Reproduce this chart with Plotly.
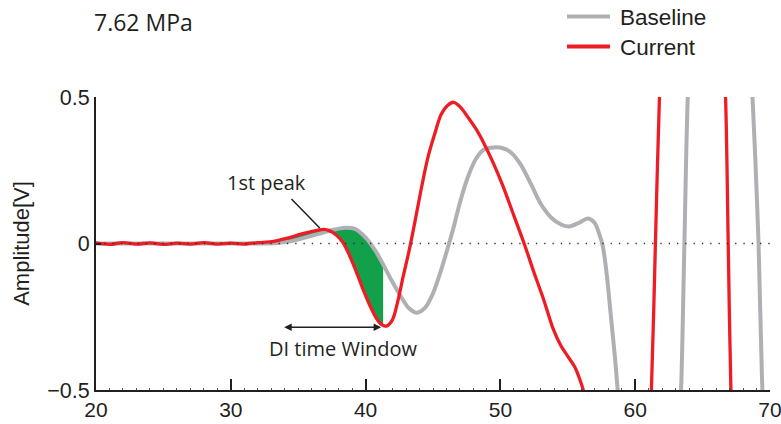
import numpy as np
import plotly.graph_objects as go

# ---- data ----
baseline_x = [20, 24, 28, 32, 33.5, 34.5, 35.5, 36.5, 37.5, 38.5, 39.2, 40.0, 40.8, 41.8, 42.6, 43.2,
              43.8, 44.4, 45.0, 45.5, 46.0, 46.5, 47.0, 47.55, 48.2, 48.8, 49.5, 50.2, 50.8, 51.5,
              52.3, 53.0, 53.8, 54.5, 55.1, 55.8, 56.5, 57.0, 57.35, 57.6, 57.9, 58.2, 58.5, 58.7,
              59.0, 60.5, 62.5, 63.2, 63.4, 63.65, 63.9, 64.2, 65.5, 68.3, 68.7, 68.9, 69.15, 69.4,
              69.7, 70.5]
baseline_y = [0, 0, 0, 0, 0.002, 0.008, 0.02, 0.033, 0.046, 0.054, 0.05, 0.02, -0.03, -0.115, -0.18,
              -0.22, -0.236, -0.22, -0.17, -0.105, -0.03, 0.05, 0.14, 0.222, 0.29, 0.322, 0.328, 0.325,
              0.31, 0.27, 0.2, 0.135, 0.087, 0.065, 0.058, 0.07, 0.085, 0.07, 0.03, -0.01, -0.11, -0.25,
              -0.39, -0.5, -0.68, -1.3, -1.0, -0.65, -0.5, 0.0, 0.5, 0.75, 1.4, 0.9, 0.5, 0.3, 0.0,
              -0.45, -0.8, -1.4]

current_x = [20, 21, 22, 23, 24, 25, 26, 27, 28, 29, 30, 31, 32, 33, 33.8, 34.5, 35.2, 35.9, 36.5,
             36.9, 37.3, 37.8, 38.3, 38.8, 39.3, 39.8, 40.3, 40.8, 41.2, 41.55, 42.0, 42.4, 42.8,
             43.2, 43.6, 44.1, 44.6, 45.1, 45.6, 46.1, 46.55, 47.0, 47.5, 48.2, 48.8, 49.5, 50.2,
             51.0, 51.8, 52.5, 53.2, 53.9, 54.5, 55.0, 55.5, 55.9, 56.2, 56.5, 57.5, 60.0, 60.9,
             61.2, 61.5, 61.8, 62.1, 64.0, 66.3, 66.7, 66.9, 67.1, 67.4, 69.0, 70.5]
current_y = [0.002, -0.003, 0.003, -0.002, 0.002, -0.003, 0.001, -0.002, 0.003, -0.002, 0.001, -0.002,
             0.003, 0.006, 0.014, 0.022, 0.032, 0.04, 0.046, 0.048, 0.044, 0.03, 0.005, -0.04, -0.095,
             -0.155, -0.21, -0.255, -0.277, -0.282, -0.26, -0.195, -0.11, -0.03, 0.06, 0.18, 0.29,
             0.37, 0.44, 0.472, 0.482, 0.467, 0.437, 0.39, 0.34, 0.272, 0.195, 0.095, -0.005, -0.1, -0.19,
             -0.29, -0.35, -0.385, -0.42, -0.465, -0.51, -0.62, -1.0, -1.2, -0.75, -0.5, 0.0, 0.5,
             0.8, 1.4, 0.85, 0.5, 0.0, -0.5, -0.85, -1.4, -1.5]

window_start, window_end = 33.4, 41.3     # green difference region
di_window = [33.85, 41.15]                 # DI time window arrow
peak_x, peak_y = 36.9, 0.048               # 1st peak
pressure_label = "7.62 MPa"
series_names = ["Baseline", "Current"]
x_ticks = [20, 30, 40, 50, 60, 70]
y_ticks = [-0.5, 0, 0.5]
y_tick_text = ["\u22120.5", "0", "0.5"]

GRAY = "#AFB0B3"
RED = "#EE1D25"
GREEN = "#12A04A"
INK = "#231F20"
TICKFONT = "Liberation Sans, Arial, sans-serif"
ANNFONT = "Open Sans, Noto Sans, sans-serif"

# pixel helpers for the plot frame (l=96, t=97, w=674, h=293)
def px_x(p):
    return (p - 96) / 674

def px_y(p):
    return (390 - p) / 293

fig = go.Figure()

# green fill between curves inside the window
fx = [x for x in sorted(set(baseline_x + current_x)) if window_start <= x <= window_end]
fx = [window_start] + fx + [window_end]
fb = np.interp(fx, baseline_x, baseline_y)
fc = np.interp(fx, current_x, current_y)
fig.add_trace(go.Scatter(x=fx, y=fb, mode="lines", line=dict(width=0, shape="spline"),
                         hoverinfo="skip", showlegend=False))
fig.add_trace(go.Scatter(x=fx, y=fc, mode="lines", line=dict(width=0, shape="spline"),
                         fill="tonexty", fillcolor=GREEN, hoverinfo="skip", showlegend=False))

fig.add_trace(go.Scatter(x=baseline_x, y=baseline_y, mode="lines", name=series_names[0],
                         line=dict(color=GRAY, width=4, shape="spline", smoothing=0.8),
                         showlegend=False))
fig.add_trace(go.Scatter(x=current_x, y=current_y, mode="lines", name=series_names[1],
                         line=dict(color=RED, width=3.3, shape="spline", smoothing=0.8),
                         showlegend=False))

# dotted zero line
fig.add_shape(type="line", xref="x", yref="y", x0=20, x1=70, y0=0, y1=0,
              line=dict(color="#333333", width=1.3, dash="1.3px,7px"), layer="above")

# legend drawn manually
for i, (name, col) in enumerate(zip(series_names, [GRAY, RED])):
    yy = 16.5 + i * 30
    fig.add_shape(type="line", xref="paper", yref="paper",
                  x0=px_x(567), x1=px_x(610), y0=px_y(yy), y1=px_y(yy),
                  line=dict(color=col, width=4))
    fig.add_annotation(xref="paper", yref="paper", x=px_x(618), y=px_y(yy + 1),
                       text=name, showarrow=False, xanchor="left", yanchor="middle",
                       font=dict(family=TICKFONT, size=22.5, color=INK))

fig.add_annotation(xref="paper", yref="paper", x=px_x(92), y=px_y(22),
                   text=pressure_label, showarrow=False, xanchor="left", yanchor="middle",
                   font=dict(family=ANNFONT, size=23, color=INK))

# 1st peak annotation (line pointer)
fig.add_annotation(x=peak_x - 0.3, y=peak_y + 0.005, xref="x", yref="y",
                   ax=(290 - 96) / 13.48 + 20, ay=(243 - 197) / 293,
                   axref="x", ayref="y", showarrow=True, arrowhead=0,
                   arrowwidth=1.5, arrowcolor=INK, text="")
fig.add_annotation(x=(266 - 96) / 13.48 + 20, y=(243 - 182) / 293, xref="x", yref="y",
                   text="1st peak", showarrow=False,
                   font=dict(family=ANNFONT, size=20, color=INK))

# DI time window arrow
fig.add_annotation(x=di_window[1], y=-0.286, ax=di_window[0], ay=-0.286,
                   xref="x", yref="y", axref="x", ayref="y", text="",
                   showarrow=True, arrowhead=2, arrowside="end+start", arrowsize=1,
                   arrowwidth=1.5, arrowcolor=INK)
fig.add_annotation(x=(343 - 96) / 13.48 + 20, y=(243 - 348) / 293, xref="x", yref="y",
                   text="DI time Window", showarrow=False,
                   font=dict(family=ANNFONT, size=20, color=INK))

fig.update_layout(
    width=781, height=424,
    margin=dict(l=96, r=11, t=97, b=34, autoexpand=False),
    plot_bgcolor="white", paper_bgcolor="white",
    showlegend=False,
    xaxis=dict(range=[20, 70], tickvals=x_ticks, ticks="inside", ticklen=11, tickwidth=1.5,
               tickcolor=INK, showline=True, linecolor=INK, linewidth=2, showgrid=False,
               zeroline=False, automargin=False, ticklabeloverflow="allow",
               tickfont=dict(family=TICKFONT, size=21, color=INK),
               minor=dict(dtick=1, ticks="inside", ticklen=2, tickcolor="#555555", tickwidth=0.8)),
    yaxis=dict(range=[-0.5, 0.5], tickvals=y_ticks, ticktext=y_tick_text, ticks="inside",
               ticklen=5, tickwidth=1.5, tickcolor=INK, showline=True, linecolor=INK,
               linewidth=2, showgrid=False, zeroline=False, automargin=False,
               ticklabeloverflow="allow",
               tickfont=dict(family=TICKFONT, size=21.5, color=INK),
               title=dict(text="Amplitude[V]", standoff=12,
                          font=dict(family=TICKFONT, size=22, color=INK))),
)

fig.write_html("out.html")
